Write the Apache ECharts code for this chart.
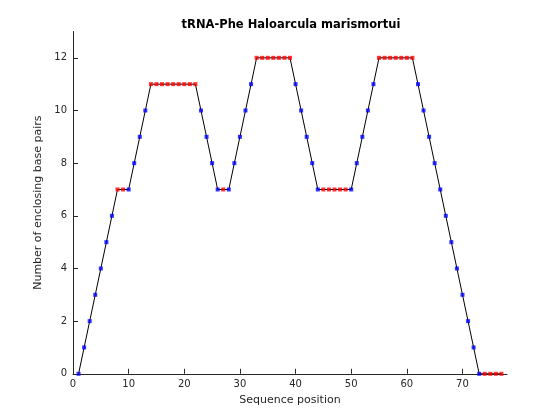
<!DOCTYPE html>
<html>
<head>
<meta charset="utf-8">
<script src="https://cdn.jsdelivr.net/npm/echarts@6/dist/echarts.min.js"></script>
<style>html,body{margin:0;padding:0;background:#fff;}#c{width:560px;height:420px;}</style>
</head>
<body>
<div id="c"></div>
<script>
// Sequence position 1..77, number of enclosing base pairs
const enclosing = [
  0,1,2,3,4,5,6,7,7,7,
  8,9,10,11,11,11,11,11,11,11,
  11,11,10,9,8,7,7,7,8,9,
  10,11,12,12,12,12,12,12,12,11,
  10,9,8,7,7,7,7,7,7,7,
  8,9,10,11,12,12,12,12,12,12,
  12,11,10,9,8,7,6,5,4,3,
  2,1,0,0,0,0,0
];
// p = paired (blue), u = unpaired (red)
const pairState = [
  'p','p','p','p','p','p','p','u','u','p',
  'p','p','p','u','u','u','u','u','u','u',
  'u','u','p','p','p','p','u','p','p','p',
  'p','p','u','u','u','u','u','u','u','p',
  'p','p','p','p','u','u','u','u','u','p',
  'p','p','p','p','u','u','u','u','u','u',
  'u','p','p','p','p','p','p','p','p','p',
  'p','p','p','u','u','u','u'
];
const xTicks = [0,10,20,30,40,50,60,70];
const yTicks = [0,2,4,6,8,10,12];

const positions = enclosing.map((v,i)=>i+1);
const linePts = positions.map((x,i)=>[x, enclosing[i]]);
const pairedPts = linePts.filter((p,i)=>pairState[i]==='p');
const unpairedPts = linePts.filter((p,i)=>pairState[i]==='u');

const axisColor = '#262626';
const chart = echarts.init(document.getElementById('c'), null, {renderer:'canvas'});
chart.setOption({
  animation:false,
  backgroundColor:'#fff',
  title:{
    text:'tRNA-Phe Haloarcula marismortui',
    left:286, top:14, textAlign:'center',
    textStyle:{fontFamily:'DejaVu Sans', fontSize:11.5, fontWeight:'bold', color:'#000'}
  },
  grid:{left:73, right:53, top:31.5, bottom:46.2, containLabel:false},
  xAxis:{
    type:'value', min:0, max:78,
    name:'Sequence position', nameLocation:'middle', nameGap:20,
    nameTextStyle:{fontFamily:'DejaVu Sans', fontSize:11, color:axisColor},
    axisLine:{show:true, lineStyle:{color:axisColor, width:1}},
    axisTick:{show:true, inside:true, length:5, customValues:xTicks, lineStyle:{color:axisColor}},
    axisLabel:{customValues:xTicks, margin:6, fontFamily:'DejaVu Sans', fontSize:10, color:axisColor},
    splitLine:{show:false}
  },
  yAxis:{
    type:'value', min:0, max:13,
    name:'Number of enclosing base pairs', nameLocation:'middle', nameGap:21,
    nameTextStyle:{fontFamily:'DejaVu Sans', fontSize:11, color:axisColor},
    axisLine:{show:true, lineStyle:{color:axisColor, width:1}},
    axisTick:{show:true, inside:true, length:5, customValues:yTicks, lineStyle:{color:axisColor}},
    axisLabel:{customValues:yTicks, margin:6, fontFamily:'DejaVu Sans', fontSize:10, color:axisColor},
    splitLine:{show:false}
  },
  series:[
    {type:'line', data:linePts, showSymbol:false, symbol:'none',
     lineStyle:{color:'#000', width:1}, z:2},
    {type:'scatter', data:pairedPts, symbol:'rect', symbolSize:4,
     itemStyle:{color:'#0000ff'}, z:3},
    {type:'scatter', data:unpairedPts, symbol:'rect', symbolSize:4,
     itemStyle:{color:'#ff0000'}, z:3}
  ]
});
</script>
</body>
</html>
